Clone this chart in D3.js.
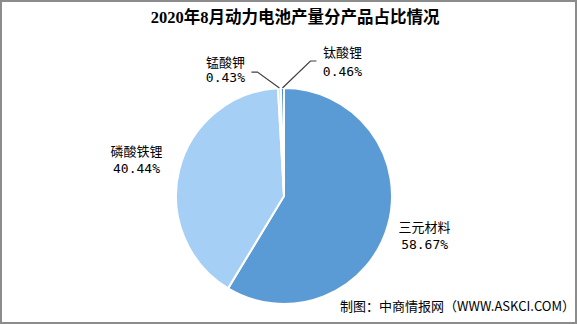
<!DOCTYPE html>
<html><head><meta charset="utf-8">
<script src="https://cdn.jsdelivr.net/npm/d3@7"></script>
<style>html,body{margin:0;padding:0;background:#fff;}svg{display:block;}</style>
</head><body>
<svg id="c" width="577" height="324"></svg>
<script>
const categories = ["三元材料", "磷酸铁锂", "锰酸钾", "钛酸锂"];
const values = [58.67, 40.44, 0.43, 0.46];
const colors = ["#5B9BD5", "#A6CFF5", "#C9E2F8", "#4A8FDB"];
const title = "2020年8月动力电池产量分产品占比情况";
const source = "制图：中商情报网（WWW.ASKCI.COM）";

const W = 577, H = 324, cx = 284, cy = 196, R = 108;
const svg = d3.select("#c");
svg.append("rect").attr("x", 1).attr("y", 1).attr("width", W - 2).attr("height", H - 2)
  .attr("fill", "#fff").attr("stroke", "#8c8c8c").attr("stroke-width", 2);

svg.append("text").attr("x", 295).attr("y", 23).attr("text-anchor", "middle")
  .attr("font-family", "'Liberation Serif','Noto Sans CJK SC',serif").attr("font-weight", "bold")
  .attr("font-size", 16.5).attr("fill", "#000").text(title);

const data = categories.map((c, i) => ({ name: c, value: values[i], color: colors[i] }));
const pie = d3.pie().value(d => d.value).sort(null).startAngle(0).endAngle(2 * Math.PI);
const arcs = pie(data);
const arc = d3.arc().innerRadius(0).outerRadius(R);
const g = svg.append("g").attr("transform", `translate(${cx},${cy})`);
g.selectAll("path").data(arcs).join("path")
  .attr("d", arc).attr("fill", d => d.data.color)
  .attr("stroke", "#fff").attr("stroke-width", 2).attr("stroke-linejoin", "round");

const font = "'DejaVu Sans Mono','Noto Sans CJK SC',monospace";
function mid(a) { return (a.startAngle + a.endAngle) / 2; }
function pt(a, r) { const m = mid(a); return [Math.sin(m) * r, -Math.cos(m) * r]; }

const labelLayout = [
  { type: "out", r: 146 },
  { type: "out", r: 152 },
  { type: "elbow", dx: -22, dy: -16, h: -6 },
  { type: "elbow", dx: 28, dy: -27, h: 6 }
];

arcs.forEach((a, i) => {
  const L = labelLayout[i];
  const pct = a.data.value.toFixed(2) + "%";
  if (L.type === "out") {
    const [x, y] = pt(a, L.r);
    const t = g.append("text").attr("text-anchor", "middle").attr("font-family", font)
      .attr("font-size", 13).attr("fill", "#000");
    t.append("tspan").attr("x", x).attr("y", y - 3).attr("font-family", "'Noto Sans CJK SC',sans-serif").text(a.data.name);
    t.append("tspan").attr("x", x).attr("y", y + 14).text(pct);
  } else {
    const p0 = pt(a, R);
    const p1 = [p0[0] + L.dx, p0[1] + L.dy];
    const p2 = [p1[0] + L.h, p1[1]];
    g.append("polyline").attr("points", [p0, p1, p2].map(p => p.join(",")).join(" "))
      .attr("fill", "none").attr("stroke", "#404040").attr("stroke-width", 1.2);
    const t = g.append("text").attr("font-family", font).attr("font-size", 13).attr("fill", "#000");
    if (L.h < 0) {
      t.append("tspan").attr("x", p2[0] - 26).attr("y", p2[1] - 5).attr("text-anchor", "middle").attr("font-family", "'Noto Sans CJK SC',sans-serif").text(a.data.name);
      t.append("tspan").attr("x", p2[0] - 26).attr("y", p2[1] + 10).attr("text-anchor", "middle").text(pct);
    } else {
      t.append("tspan").attr("x", p2[0] + 26).attr("y", p2[1] - 4).attr("text-anchor", "middle").attr("font-family", "'Noto Sans CJK SC',sans-serif").text(a.data.name);
      t.append("tspan").attr("x", p2[0] + 26).attr("y", p2[1] + 15).attr("text-anchor", "middle").text(pct);
    }
  }
});

svg.append("text").attr("x", 575).attr("y", 311).attr("text-anchor", "end")
  .attr("font-family", "'Noto Sans CJK SC','Microsoft YaHei',sans-serif").attr("font-size", 13)
  .attr("fill", "#000").text(source);
</script>
</body></html>
